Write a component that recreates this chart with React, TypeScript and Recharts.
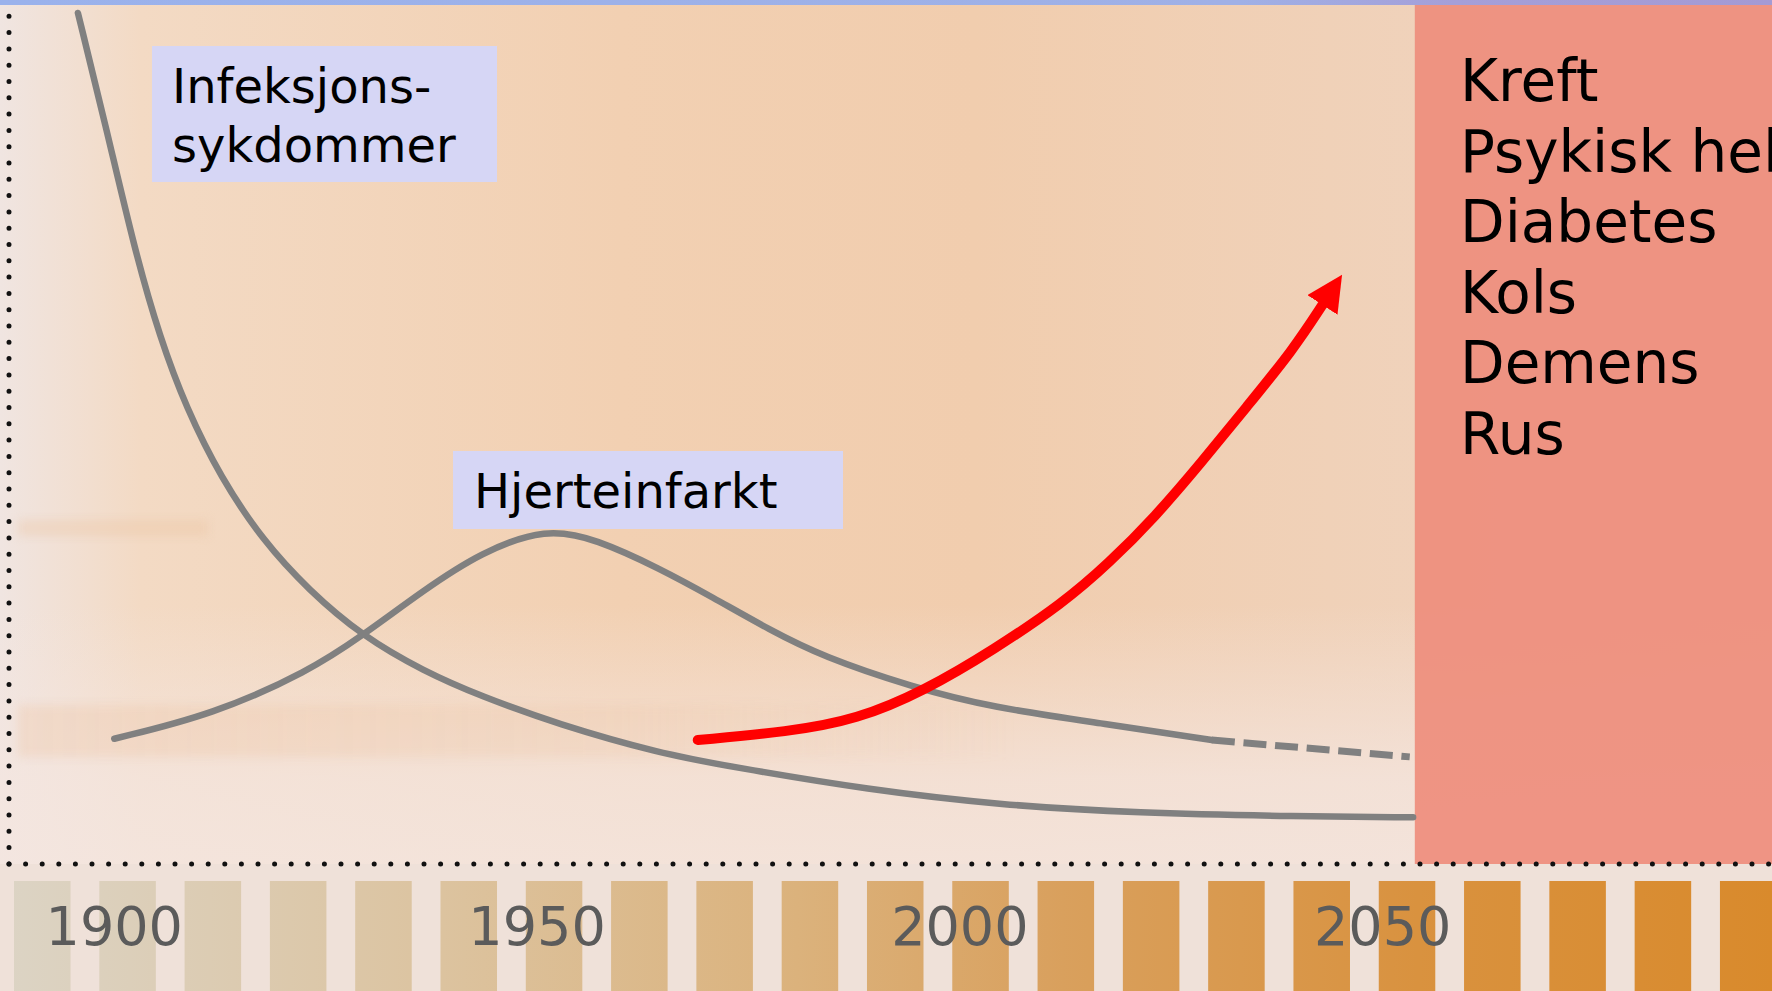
import { LineChart, Line, XAxis, YAxis, ReferenceArea } from "recharts";

// x = year, y = relative disease burden (0 at the axis, 100 at the top)
const tickYears = [1900, 1950, 2000, 2050];

const infectionYears = [1895.7, 1899.1, 1902.4, 1905.4, 1908.5, 1912.6, 1917.6, 1923.0, 1929.3, 1936.6, 1943.4, 1952.4, 1964.5, 1973.3, 1989.1, 2005.0, 2020.8, 2040.2, 2053.6];
const infectionValues = [98.5, 85.0, 71.1, 60.9, 52.8, 44.7, 37.4, 31.7, 26.4, 22.3, 19.4, 16.2, 12.8, 11.2, 8.6, 6.8, 5.9, 5.5, 5.4];

const heartYears = [1900.0, 1911.7, 1923.0, 1929.3, 1936.6, 1943.4, 1951.1, 1957.0, 1964.5, 1970.7, 1977.5, 1983.8, 1994.3, 2003.9, 2016.6, 2029.8];
const heartValues = [14.5, 17.3, 22.3, 26.4, 31.7, 36.1, 38.9, 37.6, 34.2, 30.9, 27.1, 24.0, 20.5, 18.1, 16.3, 14.35];

// projected part of the heart attack curve (dashed)
const heartTrendYears = [2029.8, 2053.2];
const heartTrendValues = [14.35, 12.4];

const chronicYears = [1969.0, 1979.7, 1987.8, 1995.9, 2004.0, 2012.2, 2017.6, 2023.1, 2028.5, 2033.9, 2039.4, 2043.0];
const chronicValues = [14.35, 15.3, 16.7, 20.1, 24.8, 30.2, 34.8, 40.2, 46.4, 52.9, 59.5, 64.9];

const futureDiseases = ["Kreft", "Psykisk helse", "Diabetes", "Kols", "Demens", "Rus"];
const futureStart = 2053.8;
const yearDomain: [number, number] = [1887.55, 2096.04];

const zip = (xs: number[], ys: number[]) => xs.map((year, i) => ({ year, v: ys[i] }));
const infectionData = zip(infectionYears, infectionValues);
const heartData = zip(heartYears, heartValues);
const heartTrendData = zip(heartTrendYears, heartTrendValues);
const chronicData = zip(chronicYears, chronicValues);

const W = 1772;
const H = 991;
const AXIS_Y = 864;
const font = '"DejaVu Sans", Verdana, sans-serif';

const YearTick = (props: any) => (
  <text
    x={props.x}
    y={props.y}
    dy={81}
    textAnchor="middle"
    fill="#5b5b5b"
    fontSize={54}
    fontFamily={font}
  >
    {props.payload.value}
  </text>
);

const labelBox: React.CSSProperties = {
  position: "absolute",
  background: "#d6d6f5",
  fontFamily: font,
  fontSize: 48,
  lineHeight: "59px",
  color: "#000",
  boxSizing: "border-box",
  paddingTop: 11,
  whiteSpace: "nowrap",
};

const streak = (left: number, top: number, width: number, height: number, color: string): React.CSSProperties => ({
  position: "absolute",
  left,
  top,
  width,
  height,
  background: color,
  filter: "blur(5px)",
});

export default function App() {
  return (
    <div
      style={{
        position: "absolute",
        left: 0,
        top: 0,
        width: W,
        height: H,
        overflow: "hidden",
        background: "#efe1d9",
      }}
    >
      <svg width={0} height={0} style={{ position: "absolute" }}>
        <defs>
          <marker
            id="redArrowHead"
            markerUnits="userSpaceOnUse"
            viewBox="0 0 36 36"
            markerWidth={36}
            markerHeight={36}
            refX={2}
            refY={18}
            orient="auto"
          >
            <path d="M0,0 L36,18 L0,36 Z" fill="#ff0000" />
          </marker>
        </defs>
      </svg>

      {/* painted background of the plot */}
      <div
        style={{
          position: "absolute",
          left: 0,
          top: 0,
          width: W,
          height: AXIS_Y,
          background:
            "linear-gradient(180deg, rgba(255,255,255,0) 0%, rgba(255,255,255,0) 70%, rgba(244,230,224,0.75) 90%, rgba(244,230,224,0.85) 100%)," +
            "linear-gradient(90deg, #f0e5e1 0%, #f3dac4 8%, #f2d0b2 35%, #f1cdae 55%, #f0d1b8 75%, #efd6c5 100%)",
        }}
      />
      <div style={streak(18, 520, 190, 16, "rgba(236,196,160,0.35)")} />
      <div style={streak(18, 705, 1000, 52, "linear-gradient(90deg, rgba(236,192,156,0.3), rgba(236,192,156,0.2) 60%, rgba(236,192,156,0))")} />

      {/* striped band under the axis */}
      <div
        style={{
          position: "absolute",
          left: 0,
          top: 881,
          width: W,
          height: H - 881,
          backgroundImage:
            "linear-gradient(90deg, transparent 0px, transparent 57px, #efe1d9 57px, #efe1d9 85.3px)," +
            "linear-gradient(90deg, #dcd4c5 0%, #dcc39f 25%, #dbb27c 45%, #d9a05d 60%, #d9923f 80%, #d98a2c 100%)",
          backgroundSize: "85.3px 100%, 100% 100%",
          backgroundPosition: "14px 0, 0 0",
          backgroundRepeat: "repeat-x, no-repeat",
        }}
      />

      <div style={{ position: "absolute", left: 0, top: 0 }}>
        <LineChart width={W} height={H} margin={{ top: 0, right: 0, bottom: 0, left: 0 }}>
          <ReferenceArea
            x1={futureStart}
            x2={yearDomain[1]}
            y1={0}
            y2={100}
            fill="#ee8e7d"
            fillOpacity={0.93}
            stroke="none"
            ifOverflow="hidden"
          />
          <XAxis
            dataKey="year"
            type="number"
            domain={yearDomain}
            allowDataOverflow
            ticks={tickYears}
            interval={0}
            height={H - AXIS_Y}
            tickSize={0}
            tickMargin={0}
            tickLine={false}
            tick={YearTick}
            axisLine={{ stroke: "#111", strokeWidth: 5, strokeDasharray: "0 16.6", strokeLinecap: "round" }}
          />
          <YAxis
            type="number"
            domain={[0, 100]}
            allowDataOverflow
            width={9}
            tick={false}
            tickLine={false}
            axisLine={{ stroke: "#111", strokeWidth: 5, strokeDasharray: "0 16.3", strokeLinecap: "round" }}
          />
          <Line
            data={infectionData}
            dataKey="v"
            type="basis"
            stroke="#808080"
            strokeWidth={6.5}
            strokeLinecap="round"
            dot={false}
            activeDot={false}
            isAnimationActive={false}
          />
          <Line
            data={heartData}
            dataKey="v"
            type="basis"
            stroke="#808080"
            strokeWidth={6.5}
            strokeLinecap="round"
            dot={false}
            activeDot={false}
            isAnimationActive={false}
          />
          <Line
            data={heartTrendData}
            dataKey="v"
            type="linear"
            stroke="#808080"
            strokeWidth={7}
            strokeDasharray="23 8.7"
            dot={false}
            activeDot={false}
            isAnimationActive={false}
          />
          <Line
            data={chronicData}
            dataKey="v"
            type="basis"
            stroke="#ff0000"
            strokeWidth={10}
            strokeLinecap="round"
            markerEnd="url(#redArrowHead)"
            dot={false}
            activeDot={false}
            isAnimationActive={false}
          />
        </LineChart>
      </div>

      <div style={{ ...labelBox, left: 152, top: 46, width: 345, height: 136, paddingLeft: 20 }}>
        Infeksjons-
        <br />
        sykdommer
      </div>
      <div style={{ ...labelBox, left: 453, top: 451, width: 390, height: 78, paddingLeft: 21 }}>
        Hjerteinfarkt
      </div>

      <div
        style={{
          position: "absolute",
          left: 1460,
          top: 46,
          fontFamily: font,
          fontSize: 58,
          lineHeight: "70.6px",
          color: "#000",
          whiteSpace: "nowrap",
        }}
      >
        {futureDiseases.map((d) => (
          <div key={d}>{d}</div>
        ))}
      </div>

      {/* top blue band */}
      <div
        style={{
          position: "absolute",
          left: 0,
          top: 0,
          width: W,
          height: 5,
          background: "linear-gradient(90deg, #9ab2ec 0%, #9fb0e6 70%, #a59fd8 82%, #a49ad4 100%)",
        }}
      />
    </div>
  );
}
